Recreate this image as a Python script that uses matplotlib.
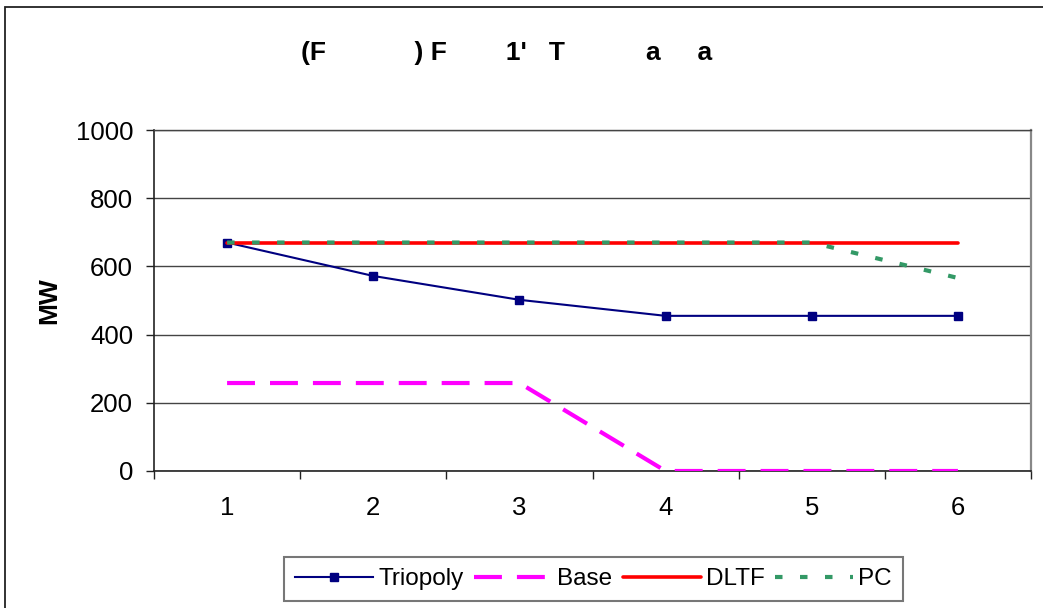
import matplotlib
matplotlib.use("Agg")
import matplotlib.pyplot as plt
from matplotlib.patches import Rectangle

plt.rcParams['font.family'] = ['Liberation Sans', 'DejaVu Sans']

# data
periods = [1, 2, 3, 4, 5, 6]
triopoly = [670, 572, 502, 455, 455, 455]
base = [258, 258, 258, 0, 0, 0]
dltf = [670, 670, 670, 670, 670, 670]
pc = [670, 670, 670, 670, 670, 566]
y_ticks = [0, 200, 400, 600, 800, 1000]
title_text = "(F" + " " * 12 + ") F" + " " * 8 + "1'" + " " * 3 + "T" + " " * 11 + "a" + " " * 5 + "a"
y_label = "MW"

W, H = 1043, 608
fig = plt.figure(figsize=(W / 100, H / 100), dpi=100)
fig.patch.set_facecolor('white')

# outer chart frame (extends past the right and bottom edges)
fig.patches.append(Rectangle((5 / W, -0.05), 1.2, 1 - 7 / H + 0.05,
                             transform=fig.transFigure, fill=False,
                             edgecolor='#222222', linewidth=1.3))

ax = fig.add_axes([154 / W, 137 / H, (1031 - 154) / W, (471 - 130) / H])

ax.plot(periods, triopoly, color='#000080', linewidth=1.5, marker='s',
        markersize=5.5, label='Triopoly', zorder=3)
ax.plot(periods, base, color='#FF00FF', linewidth=3, dashes=(6.7, 3.6),
        dash_capstyle='butt', label='Base', zorder=3)
ax.plot(periods, dltf, color='#FF0000', linewidth=2.6,
        solid_capstyle='round', label='DLTF', zorder=4)
ax.plot(periods, pc, color='#339966', linewidth=3, dashes=(1.8, 4.2),
        dash_capstyle='butt', label='PC', zorder=5)

ax.set_xlim(0.5, 6.5)
ax.set_ylim(0, 1000)

# category axis: ticks between categories, labels at centres
ax.set_xticks([0.5 + i for i in range(7)])
ax.set_xticklabels([])
ax.set_xticks(periods, minor=True)
ax.set_xticklabels([str(p) for p in periods], minor=True)
ax.tick_params(axis='x', which='major', direction='out', length=6,
               width=1, color='#222222')
ax.tick_params(axis='x', which='minor', length=0, pad=18, labelsize=18.5)

ax.set_yticks(y_ticks)
ax.set_yticklabels([str(v) for v in y_ticks])
ax.tick_params(axis='y', direction='out', length=6, width=1,
               color='#222222', pad=9, labelsize=18.5)

ax.grid(axis='y', color='#444444', linewidth=1.0, zorder=0)
ax.set_axisbelow(True)

for side in ['left', 'bottom']:
    ax.spines[side].set_color('#222222')
    ax.spines[side].set_linewidth(1.2)
ax.spines['top'].set_color('#444444')
ax.spines['top'].set_linewidth(1.0)
ax.spines['right'].set_color('#888888')
ax.spines['right'].set_linewidth(1.6)

fig.text(507 / W, 1 - 53 / H, title_text, ha='center', va='center',
         fontsize=19, fontweight='bold')
fig.text(49 / W, 1 - 300.5 / H, y_label, ha='center', va='center',
         rotation=90, fontsize=19, fontweight='bold')

leg = fig.legend(loc='center', bbox_to_anchor=(593.5 / W, 1 - 579 / H),
                 ncol=4, fontsize=17.5, handlelength=3.2, handletextpad=0.2,
                 columnspacing=0.45, borderpad=0.45, fancybox=False,
                 framealpha=1, edgecolor='#777777')
leg.get_frame().set_linewidth(1.5)

fig.savefig('out.png', dpi=100)
